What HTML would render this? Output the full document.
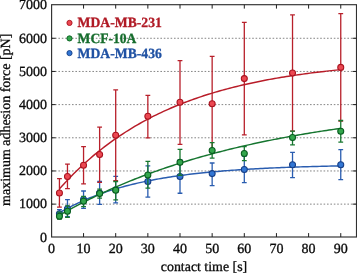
<!DOCTYPE html>
<html><head><meta charset="utf-8"><title>chart</title>
<style>html,body{margin:0;padding:0;background:#fff}body{width:357px;height:274px;position:relative;overflow:hidden;font-family:"Liberation Serif",serif}</style>
</head><body>
<svg width="357" height="274" viewBox="0 0 357 274" style="position:absolute;left:0;top:0;will-change:transform;filter:blur(0.35px)">
<line x1="51.6" x2="356.5" y1="204.13" y2="204.13" stroke="#858585" stroke-width="1" stroke-dasharray="1.6 1.8"/>
<line x1="51.6" x2="356.5" y1="170.96" y2="170.96" stroke="#858585" stroke-width="1" stroke-dasharray="1.6 1.8"/>
<line x1="51.6" x2="356.5" y1="137.79" y2="137.79" stroke="#858585" stroke-width="1" stroke-dasharray="1.6 1.8"/>
<line x1="51.6" x2="356.5" y1="104.62" y2="104.62" stroke="#858585" stroke-width="1" stroke-dasharray="1.6 1.8"/>
<line x1="51.6" x2="356.5" y1="71.45" y2="71.45" stroke="#858585" stroke-width="1" stroke-dasharray="1.6 1.8"/>
<line x1="51.6" x2="356.5" y1="38.28" y2="38.28" stroke="#858585" stroke-width="1" stroke-dasharray="1.6 1.8"/>
<path d="M59.44 209.62V217.63M57.04 209.62h4.80M57.04 217.63h4.80" stroke="#2a5db0" stroke-width="1.3" fill="none"/>
<path d="M67.47 199.59V216.64M65.07 199.59h4.80M65.07 216.64h4.80" stroke="#2a5db0" stroke-width="1.3" fill="none"/>
<path d="M83.55 190.99V208.37M81.15 190.99h4.80M81.15 208.37h4.80" stroke="#2a5db0" stroke-width="1.3" fill="none"/>
<path d="M99.62 181.52V204.33M97.22 181.52h4.80M97.22 204.33h4.80" stroke="#2a5db0" stroke-width="1.3" fill="none"/>
<path d="M115.70 176.39V202.90M113.30 176.39h4.80M113.30 202.90h4.80" stroke="#2a5db0" stroke-width="1.3" fill="none"/>
<path d="M147.85 165.83V197.11M145.45 165.83h4.80M145.45 197.11h4.80" stroke="#2a5db0" stroke-width="1.3" fill="none"/>
<path d="M180.00 160.01V193.24M177.60 160.01h4.80M177.60 193.24h4.80" stroke="#2a5db0" stroke-width="1.3" fill="none"/>
<path d="M212.15 163.02V185.53M209.75 163.02h4.80M209.75 185.53h4.80" stroke="#2a5db0" stroke-width="1.3" fill="none"/>
<path d="M244.30 156.17V182.71M241.90 156.17h4.80M241.90 182.71h4.80" stroke="#2a5db0" stroke-width="1.3" fill="none"/>
<path d="M292.52 152.29V177.62M290.12 152.29h4.80M290.12 177.62h4.80" stroke="#2a5db0" stroke-width="1.3" fill="none"/>
<path d="M340.75 149.71V179.60M338.35 149.71h4.80M338.35 179.60h4.80" stroke="#2a5db0" stroke-width="1.3" fill="none"/>
<polyline points="59.44,212.86 61.80,211.48 64.17,210.15 66.53,208.85 68.89,207.59 71.26,206.37 73.62,205.18 75.99,204.03 78.35,202.90 80.71,201.81 83.08,200.75 85.44,199.72 87.81,198.72 90.17,197.75 92.53,196.80 94.90,195.88 97.26,194.99 99.62,194.12 101.99,193.28 104.35,192.46 106.72,191.66 109.08,190.89 111.44,190.14 113.81,189.41 116.17,188.70 118.54,188.01 120.90,187.34 123.26,186.69 125.63,186.05 127.99,185.44 130.36,184.84 132.72,184.26 135.08,183.70 137.45,183.15 139.81,182.61 142.18,182.10 144.54,181.59 146.90,181.10 149.27,180.63 151.63,180.17 154.00,179.72 156.36,179.28 158.72,178.86 161.09,178.45 163.45,178.05 165.82,177.66 168.18,177.28 170.54,176.91 172.91,176.56 175.27,176.21 177.64,175.87 180.00,175.55 182.36,175.23 184.73,174.92 187.09,174.62 189.46,174.33 191.82,174.04 194.18,173.77 196.55,173.50 198.91,173.24 201.28,172.99 203.64,172.74 206.00,172.50 208.37,172.27 210.73,172.04 213.10,171.83 215.46,171.61 217.82,171.41 220.19,171.20 222.55,171.01 224.92,170.82 227.28,170.63 229.64,170.46 232.01,170.28 234.37,170.11 236.74,169.95 239.10,169.79 241.46,169.63 243.83,169.48 246.19,169.33 248.56,169.19 250.92,169.05 253.28,168.92 255.65,168.79 258.01,168.66 260.38,168.54 262.74,168.42 265.10,168.30 267.47,168.19 269.83,168.08 272.19,167.97 274.56,167.87 276.92,167.77 279.29,167.67 281.65,167.57 284.01,167.48 286.38,167.39 288.74,167.30 291.11,167.22 293.47,167.13 295.83,167.05 298.20,166.98 300.56,166.90 302.93,166.83 305.29,166.75 307.65,166.68 310.02,166.62 312.38,166.55 314.75,166.49 317.11,166.43 319.47,166.37 321.84,166.31 324.20,166.25 326.57,166.19 328.93,166.14 331.29,166.09 333.66,166.04 336.02,165.99 338.39,165.94 340.75,165.89" fill="none" stroke="#2a5db0" stroke-width="1.45" stroke-linejoin="round"/>
<circle cx="59.44" cy="213.66" r="3.0" fill="#3276d4" stroke="#173f86" stroke-width="1.05"/>
<circle cx="67.47" cy="208.70" r="3.0" fill="#3276d4" stroke="#173f86" stroke-width="1.05"/>
<circle cx="83.55" cy="199.43" r="3.0" fill="#3276d4" stroke="#173f86" stroke-width="1.05"/>
<circle cx="99.62" cy="192.94" r="3.0" fill="#3276d4" stroke="#173f86" stroke-width="1.05"/>
<circle cx="115.70" cy="189.66" r="3.0" fill="#3276d4" stroke="#173f86" stroke-width="1.05"/>
<circle cx="147.85" cy="181.55" r="3.0" fill="#3276d4" stroke="#173f86" stroke-width="1.05"/>
<circle cx="180.00" cy="176.52" r="3.0" fill="#3276d4" stroke="#173f86" stroke-width="1.05"/>
<circle cx="212.15" cy="173.61" r="3.0" fill="#3276d4" stroke="#173f86" stroke-width="1.05"/>
<circle cx="244.30" cy="169.47" r="3.0" fill="#3276d4" stroke="#173f86" stroke-width="1.05"/>
<circle cx="292.52" cy="164.81" r="3.0" fill="#3276d4" stroke="#173f86" stroke-width="1.05"/>
<circle cx="340.75" cy="164.81" r="3.0" fill="#3276d4" stroke="#173f86" stroke-width="1.05"/>
<path d="M59.44 178.57V207.04M57.04 178.57h4.80M57.04 207.04h4.80" stroke="#b8202b" stroke-width="1.3" fill="none"/>
<path d="M67.47 164.18V188.67M65.07 164.18h4.80M65.07 188.67h4.80" stroke="#b8202b" stroke-width="1.3" fill="none"/>
<path d="M83.55 146.60V183.90M81.15 146.60h4.80M81.15 183.90h4.80" stroke="#b8202b" stroke-width="1.3" fill="none"/>
<path d="M99.62 127.20V182.32M97.22 127.20h4.80M97.22 182.32h4.80" stroke="#b8202b" stroke-width="1.3" fill="none"/>
<path d="M115.70 89.90V180.73M113.30 89.90h4.80M113.30 180.73h4.80" stroke="#b8202b" stroke-width="1.3" fill="none"/>
<path d="M147.85 95.30V137.90M145.45 95.30h4.80M145.45 137.90h4.80" stroke="#b8202b" stroke-width="1.3" fill="none"/>
<path d="M180.00 60.61V144.28M177.60 60.61h4.80M177.60 144.28h4.80" stroke="#b8202b" stroke-width="1.3" fill="none"/>
<path d="M212.15 56.44V150.97M209.75 56.44h4.80M209.75 150.97h4.80" stroke="#b8202b" stroke-width="1.3" fill="none"/>
<path d="M244.30 22.31V134.92M241.90 22.31h4.80M241.90 134.92h4.80" stroke="#b8202b" stroke-width="1.3" fill="none"/>
<path d="M292.52 14.80V131.18M290.12 14.80h4.80M290.12 131.18h4.80" stroke="#b8202b" stroke-width="1.3" fill="none"/>
<path d="M340.75 13.60V121.18M338.35 13.60h4.80M338.35 121.18h4.80" stroke="#b8202b" stroke-width="1.3" fill="none"/>
<polyline points="59.44,188.88 61.80,186.24 64.17,183.66 66.53,181.12 68.89,178.64 71.26,176.21 73.62,173.83 75.99,171.49 78.35,169.21 80.71,166.96 83.08,164.77 85.44,162.62 87.81,160.51 90.17,158.44 92.53,156.42 94.90,154.43 97.26,152.49 99.62,150.58 101.99,148.72 104.35,146.89 106.72,145.10 109.08,143.34 111.44,141.62 113.81,139.94 116.17,138.29 118.54,136.67 120.90,135.08 123.26,133.53 125.63,132.01 127.99,130.52 130.36,129.05 132.72,127.62 135.08,126.22 137.45,124.84 139.81,123.50 142.18,122.18 144.54,120.88 146.90,119.62 149.27,118.38 151.63,117.16 154.00,115.97 156.36,114.80 158.72,113.66 161.09,112.53 163.45,111.43 165.82,110.36 168.18,109.30 170.54,108.27 172.91,107.26 175.27,106.26 177.64,105.29 180.00,104.34 182.36,103.41 184.73,102.49 187.09,101.60 189.46,100.72 191.82,99.86 194.18,99.01 196.55,98.19 198.91,97.38 201.28,96.59 203.64,95.81 206.00,95.05 208.37,94.30 210.73,93.57 213.10,92.85 215.46,92.15 217.82,91.46 220.19,90.79 222.55,90.13 224.92,89.48 227.28,88.85 229.64,88.23 232.01,87.62 234.37,87.02 236.74,86.44 239.10,85.87 241.46,85.31 243.83,84.76 246.19,84.22 248.56,83.69 250.92,83.17 253.28,82.67 255.65,82.17 258.01,81.68 260.38,81.21 262.74,80.74 265.10,80.28 267.47,79.83 269.83,79.39 272.19,78.96 274.56,78.54 276.92,78.13 279.29,77.72 281.65,77.33 284.01,76.94 286.38,76.56 288.74,76.18 291.11,75.82 293.47,75.46 295.83,75.11 298.20,74.77 300.56,74.43 302.93,74.10 305.29,73.77 307.65,73.46 310.02,73.15 312.38,72.84 314.75,72.54 317.11,72.25 319.47,71.97 321.84,71.69 324.20,71.41 326.57,71.14 328.93,70.88 331.29,70.62 333.66,70.36 336.02,70.12 338.39,69.87 340.75,69.63" fill="none" stroke="#b81c28" stroke-width="1.45" stroke-linejoin="round"/>
<circle cx="59.44" cy="193.01" r="3.0" fill="#ec4852" stroke="#a9131f" stroke-width="1.05"/>
<circle cx="67.47" cy="176.42" r="3.0" fill="#ec4852" stroke="#a9131f" stroke-width="1.05"/>
<circle cx="83.55" cy="165.33" r="3.0" fill="#ec4852" stroke="#a9131f" stroke-width="1.05"/>
<circle cx="99.62" cy="154.51" r="3.0" fill="#ec4852" stroke="#a9131f" stroke-width="1.05"/>
<circle cx="115.70" cy="135.31" r="3.0" fill="#ec4852" stroke="#a9131f" stroke-width="1.05"/>
<circle cx="147.85" cy="116.31" r="3.0" fill="#ec4852" stroke="#a9131f" stroke-width="1.05"/>
<circle cx="180.00" cy="102.21" r="3.0" fill="#ec4852" stroke="#a9131f" stroke-width="1.05"/>
<circle cx="212.15" cy="103.70" r="3.0" fill="#ec4852" stroke="#a9131f" stroke-width="1.05"/>
<circle cx="244.30" cy="78.61" r="3.0" fill="#ec4852" stroke="#a9131f" stroke-width="1.05"/>
<circle cx="292.52" cy="72.99" r="3.0" fill="#ec4852" stroke="#a9131f" stroke-width="1.05"/>
<circle cx="340.75" cy="67.39" r="3.0" fill="#ec4852" stroke="#a9131f" stroke-width="1.05"/>
<path d="M59.44 212.20V219.09M57.04 212.20h4.80M57.04 219.09h4.80" stroke="#17772f" stroke-width="1.3" fill="none"/>
<path d="M67.47 205.82V217.30M65.07 205.82h4.80M65.07 217.30h4.80" stroke="#17772f" stroke-width="1.3" fill="none"/>
<path d="M83.55 196.35V206.58M81.15 196.35h4.80M81.15 206.58h4.80" stroke="#17772f" stroke-width="1.3" fill="none"/>
<path d="M99.62 189.17V198.10M97.22 189.17h4.80M97.22 198.10h4.80" stroke="#17772f" stroke-width="1.3" fill="none"/>
<path d="M115.70 181.49V199.79M113.30 181.49h4.80M113.30 199.79h4.80" stroke="#17772f" stroke-width="1.3" fill="none"/>
<path d="M147.85 161.43V188.11M145.45 161.43h4.80M145.45 188.11h4.80" stroke="#17772f" stroke-width="1.3" fill="none"/>
<path d="M180.00 149.41V175.26M177.60 149.41h4.80M177.60 175.26h4.80" stroke="#17772f" stroke-width="1.3" fill="none"/>
<path d="M212.15 142.69V158.09M209.75 142.69h4.80M209.75 158.09h4.80" stroke="#17772f" stroke-width="1.3" fill="none"/>
<path d="M244.30 146.60V160.60M241.90 146.60h4.80M241.90 160.60h4.80" stroke="#17772f" stroke-width="1.3" fill="none"/>
<path d="M292.52 131.21V144.81M290.12 131.21h4.80M290.12 144.81h4.80" stroke="#17772f" stroke-width="1.3" fill="none"/>
<path d="M340.75 120.48V142.20M338.35 120.48h4.80M338.35 142.20h4.80" stroke="#17772f" stroke-width="1.3" fill="none"/>
<polyline points="59.44,215.32 61.80,213.97 64.17,212.63 66.53,211.31 68.89,210.00 71.26,208.71 73.62,207.44 75.99,206.18 78.35,204.93 80.71,203.70 83.08,202.48 85.44,201.28 87.81,200.09 90.17,198.91 92.53,197.75 94.90,196.61 97.26,195.47 99.62,194.35 101.99,193.24 104.35,192.15 106.72,191.07 109.08,190.00 111.44,188.94 113.81,187.90 116.17,186.87 118.54,185.85 120.90,184.84 123.26,183.85 125.63,182.86 127.99,181.89 130.36,180.93 132.72,179.98 135.08,179.04 137.45,178.11 139.81,177.20 142.18,176.29 144.54,175.40 146.90,174.51 149.27,173.64 151.63,172.77 154.00,171.92 156.36,171.08 158.72,170.24 161.09,169.42 163.45,168.60 165.82,167.80 168.18,167.00 170.54,166.22 172.91,165.44 175.27,164.67 177.64,163.92 180.00,163.17 182.36,162.42 184.73,161.69 187.09,160.97 189.46,160.25 191.82,159.55 194.18,158.85 196.55,158.16 198.91,157.48 201.28,156.80 203.64,156.14 206.00,155.48 208.37,154.83 210.73,154.18 213.10,153.55 215.46,152.92 217.82,152.30 220.19,151.69 222.55,151.08 224.92,150.48 227.28,149.89 229.64,149.31 232.01,148.73 234.37,148.16 236.74,147.59 239.10,147.03 241.46,146.48 243.83,145.94 246.19,145.40 248.56,144.87 250.92,144.34 253.28,143.82 255.65,143.31 258.01,142.80 260.38,142.30 262.74,141.80 265.10,141.31 267.47,140.83 269.83,140.35 272.19,139.88 274.56,139.41 276.92,138.95 279.29,138.49 281.65,138.04 284.01,137.60 286.38,137.16 288.74,136.72 291.11,136.29 293.47,135.86 295.83,135.44 298.20,135.03 300.56,134.62 302.93,134.21 305.29,133.81 307.65,133.42 310.02,133.03 312.38,132.64 314.75,132.26 317.11,131.88 319.47,131.51 321.84,131.14 324.20,130.77 326.57,130.41 328.93,130.06 331.29,129.70 333.66,129.36 336.02,129.01 338.39,128.67 340.75,128.34" fill="none" stroke="#15752f" stroke-width="1.45" stroke-linejoin="round"/>
<circle cx="59.44" cy="216.31" r="3.0" fill="#33a64c" stroke="#085c1f" stroke-width="1.05"/>
<circle cx="67.47" cy="211.34" r="3.0" fill="#33a64c" stroke="#085c1f" stroke-width="1.05"/>
<circle cx="83.55" cy="201.22" r="3.0" fill="#33a64c" stroke="#085c1f" stroke-width="1.05"/>
<circle cx="99.62" cy="193.47" r="3.0" fill="#33a64c" stroke="#085c1f" stroke-width="1.05"/>
<circle cx="115.70" cy="190.16" r="3.0" fill="#33a64c" stroke="#085c1f" stroke-width="1.05"/>
<circle cx="147.85" cy="174.93" r="3.0" fill="#33a64c" stroke="#085c1f" stroke-width="1.05"/>
<circle cx="180.00" cy="162.36" r="3.0" fill="#33a64c" stroke="#085c1f" stroke-width="1.05"/>
<circle cx="212.15" cy="150.41" r="3.0" fill="#33a64c" stroke="#085c1f" stroke-width="1.05"/>
<circle cx="244.30" cy="153.42" r="3.0" fill="#33a64c" stroke="#085c1f" stroke-width="1.05"/>
<circle cx="292.52" cy="137.53" r="3.0" fill="#33a64c" stroke="#085c1f" stroke-width="1.05"/>
<circle cx="340.75" cy="131.21" r="3.0" fill="#33a64c" stroke="#085c1f" stroke-width="1.05"/>
<rect x="51.6" y="4.7" width="304.90" height="232.30" fill="none" stroke="#303030" stroke-width="1.15"/>
<path d="M83.55 237.0v-3.9M83.55 4.7v3.9M115.70 237.0v-3.9M115.70 4.7v3.9M147.85 237.0v-3.9M147.85 4.7v3.9M180.00 237.0v-3.9M180.00 4.7v3.9M212.15 237.0v-3.9M212.15 4.7v3.9M244.30 237.0v-3.9M244.30 4.7v3.9M276.45 237.0v-3.9M276.45 4.7v3.9M308.60 237.0v-3.9M308.60 4.7v3.9M340.75 237.0v-3.9M340.75 4.7v3.9M51.6 204.13h3.9M356.5 204.13h-3.9M51.6 170.96h3.9M356.5 170.96h-3.9M51.6 137.79h3.9M356.5 137.79h-3.9M51.6 104.62h3.9M356.5 104.62h-3.9M51.6 71.45h3.9M356.5 71.45h-3.9M51.6 38.28h3.9M356.5 38.28h-3.9" stroke="#1f1f1f" stroke-width="1" fill="none"/>
<circle cx="69.5" cy="22.9" r="2.6" fill="#ec4852" stroke="#a9131f" stroke-width="0.9"/>
<circle cx="69.5" cy="38.4" r="2.6" fill="#33a64c" stroke="#085c1f" stroke-width="0.9"/>
<circle cx="69.5" cy="53.1" r="2.6" fill="#3276d4" stroke="#173f86" stroke-width="0.9"/>
<text x="47.0" y="241.55" text-anchor="end" font-family="Liberation Serif, serif" stroke-width="0.3" paint-order="stroke" text-rendering="geometricPrecision" font-size="14" fill="#0a0a0a" stroke="#0a0a0a">0</text>
<text x="47.0" y="208.38" text-anchor="end" font-family="Liberation Serif, serif" stroke-width="0.3" paint-order="stroke" text-rendering="geometricPrecision" font-size="14" fill="#0a0a0a" stroke="#0a0a0a">1000</text>
<text x="47.0" y="175.21" text-anchor="end" font-family="Liberation Serif, serif" stroke-width="0.3" paint-order="stroke" text-rendering="geometricPrecision" font-size="14" fill="#0a0a0a" stroke="#0a0a0a">2000</text>
<text x="47.0" y="142.04" text-anchor="end" font-family="Liberation Serif, serif" stroke-width="0.3" paint-order="stroke" text-rendering="geometricPrecision" font-size="14" fill="#0a0a0a" stroke="#0a0a0a">3000</text>
<text x="47.0" y="108.87" text-anchor="end" font-family="Liberation Serif, serif" stroke-width="0.3" paint-order="stroke" text-rendering="geometricPrecision" font-size="14" fill="#0a0a0a" stroke="#0a0a0a">4000</text>
<text x="47.0" y="75.70" text-anchor="end" font-family="Liberation Serif, serif" stroke-width="0.3" paint-order="stroke" text-rendering="geometricPrecision" font-size="14" fill="#0a0a0a" stroke="#0a0a0a">5000</text>
<text x="47.0" y="42.53" text-anchor="end" font-family="Liberation Serif, serif" stroke-width="0.3" paint-order="stroke" text-rendering="geometricPrecision" font-size="14" fill="#0a0a0a" stroke="#0a0a0a">6000</text>
<text x="47.0" y="9.36" text-anchor="end" font-family="Liberation Serif, serif" stroke-width="0.3" paint-order="stroke" text-rendering="geometricPrecision" font-size="14" fill="#0a0a0a" stroke="#0a0a0a">7000</text>
<text x="51.40" y="253.4" text-anchor="middle" font-family="Liberation Serif, serif" stroke-width="0.3" paint-order="stroke" text-rendering="geometricPrecision" font-size="14" fill="#0a0a0a" stroke="#0a0a0a">0</text>
<text x="83.55" y="253.4" text-anchor="middle" font-family="Liberation Serif, serif" stroke-width="0.3" paint-order="stroke" text-rendering="geometricPrecision" font-size="14" fill="#0a0a0a" stroke="#0a0a0a">10</text>
<text x="115.70" y="253.4" text-anchor="middle" font-family="Liberation Serif, serif" stroke-width="0.3" paint-order="stroke" text-rendering="geometricPrecision" font-size="14" fill="#0a0a0a" stroke="#0a0a0a">20</text>
<text x="147.85" y="253.4" text-anchor="middle" font-family="Liberation Serif, serif" stroke-width="0.3" paint-order="stroke" text-rendering="geometricPrecision" font-size="14" fill="#0a0a0a" stroke="#0a0a0a">30</text>
<text x="180.00" y="253.4" text-anchor="middle" font-family="Liberation Serif, serif" stroke-width="0.3" paint-order="stroke" text-rendering="geometricPrecision" font-size="14" fill="#0a0a0a" stroke="#0a0a0a">40</text>
<text x="212.15" y="253.4" text-anchor="middle" font-family="Liberation Serif, serif" stroke-width="0.3" paint-order="stroke" text-rendering="geometricPrecision" font-size="14" fill="#0a0a0a" stroke="#0a0a0a">50</text>
<text x="244.30" y="253.4" text-anchor="middle" font-family="Liberation Serif, serif" stroke-width="0.3" paint-order="stroke" text-rendering="geometricPrecision" font-size="14" fill="#0a0a0a" stroke="#0a0a0a">60</text>
<text x="276.45" y="253.4" text-anchor="middle" font-family="Liberation Serif, serif" stroke-width="0.3" paint-order="stroke" text-rendering="geometricPrecision" font-size="14" fill="#0a0a0a" stroke="#0a0a0a">70</text>
<text x="308.60" y="253.4" text-anchor="middle" font-family="Liberation Serif, serif" stroke-width="0.3" paint-order="stroke" text-rendering="geometricPrecision" font-size="14" fill="#0a0a0a" stroke="#0a0a0a">80</text>
<text x="340.75" y="253.4" text-anchor="middle" font-family="Liberation Serif, serif" stroke-width="0.3" paint-order="stroke" text-rendering="geometricPrecision" font-size="14" fill="#0a0a0a" stroke="#0a0a0a">90</text>
<text x="204.0" y="271.1" text-anchor="middle" font-family="Liberation Serif, serif" stroke-width="0.3" paint-order="stroke" text-rendering="geometricPrecision" font-size="13.9" fill="#0a0a0a" stroke="#0a0a0a">contact time [s]</text>
<text transform="translate(10.3 119.8) rotate(-90)" text-anchor="middle" font-family="Liberation Serif, serif" stroke-width="0.3" paint-order="stroke" text-rendering="geometricPrecision" font-size="14" fill="#0a0a0a" stroke="#0a0a0a">maximum adhesion force [pN]</text>
<text x="77.6" y="27.1" font-family="Liberation Serif, serif" stroke-width="0.3" paint-order="stroke" text-rendering="geometricPrecision" font-weight="bold" font-size="14.1" textLength="84.2" lengthAdjust="spacingAndGlyphs" fill="#b01a25" stroke="#b01a25">MDA-MB-231</text>
<text x="77.6" y="42.6" font-family="Liberation Serif, serif" stroke-width="0.3" paint-order="stroke" text-rendering="geometricPrecision" font-weight="bold" font-size="14.1" textLength="58.8" lengthAdjust="spacingAndGlyphs" fill="#156c2c" stroke="#156c2c">MCF-10A</text>
<text x="77.6" y="58.0" font-family="Liberation Serif, serif" stroke-width="0.3" paint-order="stroke" text-rendering="geometricPrecision" font-weight="bold" font-size="14.1" textLength="84.2" lengthAdjust="spacingAndGlyphs" fill="#1f51a3" stroke="#1f51a3">MDA-MB-436</text>
</svg>
</body></html>
